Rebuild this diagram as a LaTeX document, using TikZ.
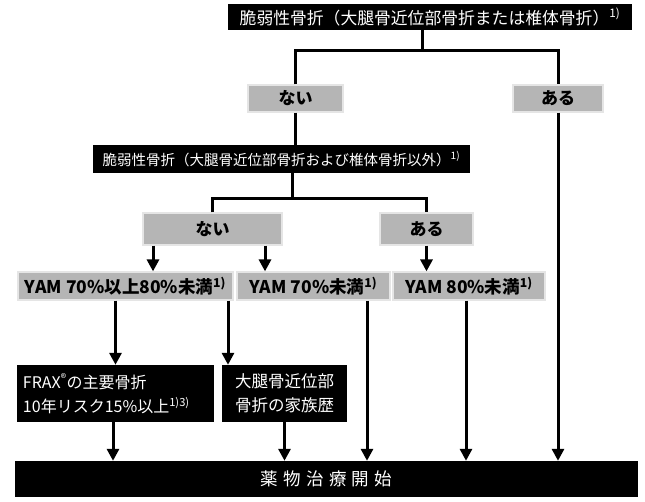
\documentclass[tikz,border=0pt]{standalone}
\usepackage{fontspec}
\setmainfont{Noto Sans CJK JP}
\usetikzlibrary{arrows.meta}
\begin{document}
\begin{tikzpicture}[x=1pt,y=-1pt,
  blk/.style={fill=black,text=white,inner sep=0pt,font=\fontsize{16}{19}\selectfont},
  gry/.style={fill=gray!58,draw=gray!20,line width=1.2pt,inner sep=0pt,font=\bfseries\fontsize{17}{20}\selectfont},
  conn/.style={line width=3pt,line join=miter},
  arr/.style={line width=3pt,-{Triangle[width=12pt,length=12pt]}}]
\useasboundingbox[fill=white] (0,0) rectangle (645,501);
% nodes
\node[blk,minimum width=404pt,minimum height=26pt,font=\fontsize{16.8}{19}\selectfont] (top) at (430,17) {脆弱性骨折（大腿骨近位部骨折または椎体骨折）\textsuperscript{1)}};
\node[gry,minimum width=95pt,minimum height=27pt] (nai1) at (295.5,98.5) {ない};
\node[gry,minimum width=90pt,minimum height=27pt] (aru1) at (558,98.5) {ある};
\node[blk,minimum width=377pt,minimum height=28pt,font=\fontsize{14.5}{17}\selectfont] (mid) at (281.5,159) {脆弱性骨折（大腿骨近位部骨折および椎体骨折以外）\textsuperscript{1)}};
\node[gry,minimum width=139pt,minimum height=32pt] (nai2) at (212.5,229) {ない};
\node[gry,minimum width=93pt,minimum height=32pt] (aru2) at (426.5,229) {ある};
\node[gry,minimum width=215pt,minimum height=28pt,font=\bfseries\fontsize{17.5}{20}\selectfont] (yam1) at (125.5,286) {YAM 70\%以上80\%未満\textsuperscript{1)}};
\node[gry,minimum width=153pt,minimum height=28pt,font=\bfseries\fontsize{17.5}{20}\selectfont] (yam2) at (313.5,286) {YAM 70\%未満\textsuperscript{1)}};
\node[gry,minimum width=152pt,minimum height=28pt,font=\bfseries\fontsize{17.5}{20}\selectfont] (yam3) at (469,286) {YAM 80\%未満\textsuperscript{1)}};
\node[blk,minimum width=197pt,minimum height=57pt,align=left,text width=185pt,font=\fontsize{16}{24}\selectfont] (frax) at (115.5,393.5) {FRAX\textsuperscript{®}の主要骨折\\10年リスク15\%以上\textsuperscript{1)3)}};
\node[blk,minimum width=125pt,minimum height=57pt,align=left,font=\fontsize{16.5}{24}\selectfont] (fam) at (284.5,393.5) {大腿骨近位部\\骨折の家族歴};
\node[blk,minimum width=623pt,minimum height=36pt,font=\fontsize{17.5}{20}\selectfont\addfontfeature{LetterSpace=30}] (bot) at (326.5,479) {薬物治療開始};
% junctions
\coordinate (j1) at (422,50);
\coordinate (j1l) at (295.5,50);
\coordinate (j1r) at (558,50);
\coordinate (j2) at (292,198);
% connectors
\draw[conn] (top.south -| j1) -- (j1);
\draw[conn] (nai1.north) -- (j1l) -- (j1r) -- (aru1.north);
\draw[conn] (nai1.south) -- (nai1.south |- mid.north);
\draw[arr] (aru1.south) -- (aru1.south |- bot.north);
\draw[conn] (mid.south -| j2) -- (j2);
\draw[conn] (nai2.north) -- (nai2.north |- j2) -- (aru2.north |- j2) -- (aru2.north);
\draw[arr] ([xshift=-59.5pt]nai2.south) -- ([xshift=-59.5pt]nai2.south |- yam1.north);
\draw[arr] ([xshift=52.5pt]nai2.south) -- ([xshift=52.5pt]nai2.south |- yam2.north);
\draw[arr] (aru2.south) -- (aru2.south |- yam3.north);
\draw[arr] (frax.north |- yam1.south) -- (frax.north);
\draw[arr] ([xshift=102.5pt]yam1.south) -- ([xshift=102.5pt]yam1.south |- fam.north);
\draw[arr] ([xshift=53.5pt]yam2.south) -- ([xshift=53.5pt]yam2.south |- bot.north);
\draw[arr] ([xshift=-3pt]yam3.south) -- ([xshift=-3pt]yam3.south |- bot.north);
\draw[arr] ([xshift=-2.5pt]frax.south) -- ([xshift=-2.5pt]frax.south |- bot.north);
\draw[arr] (fam.south) -- (fam.south |- bot.north);
\end{tikzpicture}
\end{document}
